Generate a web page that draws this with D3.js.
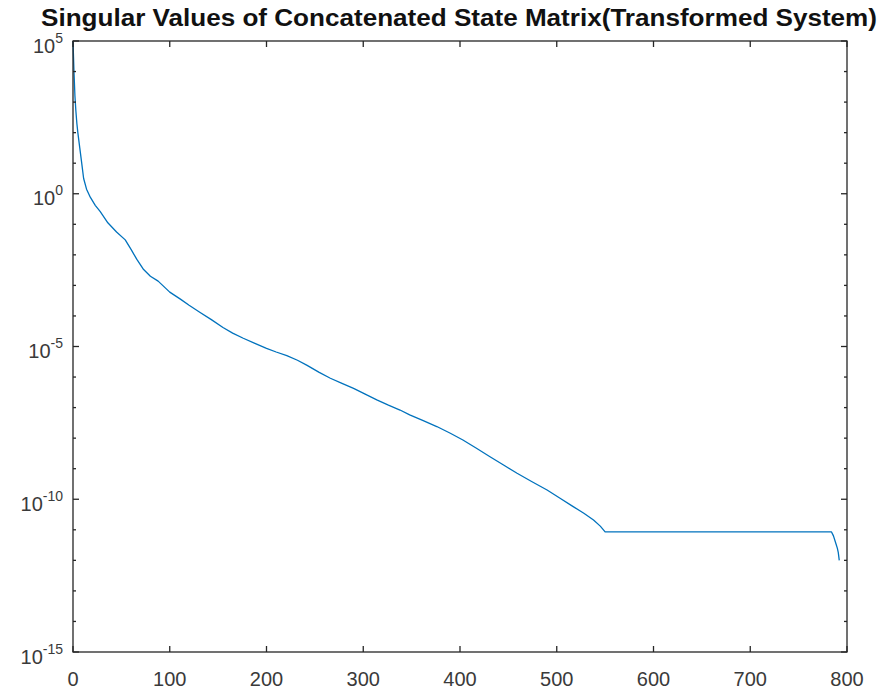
<!DOCTYPE html>
<html>
<head>
<meta charset="utf-8">
<script src="https://cdn.jsdelivr.net/npm/d3@7"></script>
<style>
  html, body { margin: 0; padding: 0; background: #ffffff; }
  svg { display: block; }
</style>
</head>
<body>
<svg id="chart" width="886" height="696"></svg>
<script>
// Singular value index (x) and the corresponding singular value (y, log scale)
const sampleIndex = [
  0, 1, 2, 3, 4, 5, 7, 9, 11, 14, 18, 23, 28, 36, 45, 54, 60, 66, 73, 80, 88,
  100, 111, 120, 131, 143, 155, 165, 176, 188, 200, 210, 221, 232, 242, 254,
  266, 278, 290, 302, 314, 326, 338, 348, 362, 376, 390, 403, 417, 431, 445,
  459, 474, 490, 503, 517, 528, 538, 545, 550, 600, 700, 784, 786, 788, 790, 791, 792
];
const singularValues = [
  1e5, 1e4, 1.58e3, 5.0e2, 2.0e2, 1.0e2, 31.6, 10, 3.16, 1.41, 0.759, 0.417, 0.263,
  0.112, 5.62e-2, 3.09e-2, 1.51e-2, 7.08e-3, 3.31e-3, 2.0e-3, 1.38e-3,
  6.03e-4, 3.55e-4, 2.24e-4, 1.32e-4, 7.59e-5, 4.17e-5, 2.75e-5, 1.86e-5, 1.26e-5,
  8.71e-6, 6.61e-6, 5.01e-6, 3.55e-6, 2.40e-6, 1.45e-6,
  9.12e-7, 6.17e-7, 4.27e-7, 2.75e-7, 1.78e-7, 1.20e-7, 8.32e-8, 5.75e-8, 3.72e-8,
  2.40e-8, 1.45e-8, 8.71e-9, 4.68e-9, 2.45e-9, 1.32e-9,
  7.08e-10, 3.80e-10, 2.0e-10, 1.10e-10, 5.75e-11, 3.47e-11, 2.09e-11, 1.32e-11,
  8.51e-12, 8.51e-12, 8.51e-12, 8.51e-12, 6.31e-12, 3.98e-12, 2.51e-12, 1.78e-12, 1.0e-12
];
const xTicks = [0, 100, 200, 300, 400, 500, 600, 700, 800];
const yTickExponents = [5, 0, -5, -10, -15];
const yMinorExponents = d3.range(-15, 6);
const titleText = "Singular Values of Concatenated State Matrix(Transformed System)";

const plotLeft = 73, plotRight = 847, plotTop = 41, plotBottom = 652;
const axisColor = "#262626";
const labelColor = "#3a3a3a";
const fontFamily = "'Liberation Sans', Arial, Helvetica, sans-serif";

const svg = d3.select("#chart");

const x = d3.scaleLinear().domain([0, 800]).range([plotLeft, plotRight]);
const y = d3.scaleLog().domain([1e-15, 1e5]).range([plotBottom, plotTop]);

// data line
const line = d3.line()
  .x((d, i) => x(sampleIndex[i]))
  .y(d => y(d));

svg.append("path")
  .datum(singularValues)
  .attr("d", line)
  .attr("fill", "none")
  .attr("stroke", "#0072BD")
  .attr("stroke-width", 1.3)
  .attr("stroke-linejoin", "round");

// box frame
const axes = svg.append("g").attr("stroke", axisColor).attr("stroke-width", 1.3).attr("fill", "none");
axes.append("rect")
  .attr("x", plotLeft).attr("y", plotTop)
  .attr("width", plotRight - plotLeft).attr("height", plotBottom - plotTop);

// x ticks (bottom and top, pointing inward)
xTicks.forEach(t => {
  axes.append("line").attr("x1", x(t)).attr("x2", x(t)).attr("y1", plotBottom).attr("y2", plotBottom - 6);
  axes.append("line").attr("x1", x(t)).attr("x2", x(t)).attr("y1", plotTop).attr("y2", plotTop + 6);
});

// y ticks: minor at each decade, major every five decades
yMinorExponents.forEach(e => {
  const len = yTickExponents.includes(e) ? 6 : 3;
  const yy = y(Math.pow(10, e));
  axes.append("line").attr("x1", plotLeft).attr("x2", plotLeft + len).attr("y1", yy).attr("y2", yy);
  axes.append("line").attr("x1", plotRight).attr("x2", plotRight - len).attr("y1", yy).attr("y2", yy);
});

// x tick labels
svg.append("g")
  .selectAll("text")
  .data(xTicks)
  .join("text")
  .attr("x", d => x(d))
  .attr("y", plotBottom + 34)
  .attr("text-anchor", "middle")
  .attr("font-family", fontFamily)
  .attr("font-size", 20)
  .attr("fill", labelColor)
  .text(d => d);

// y tick labels as 10 with raised exponent
const yl = svg.append("g")
  .selectAll("text")
  .data(yTickExponents)
  .join("text")
  .attr("x", plotLeft - 10)
  .attr("y", d => y(Math.pow(10, d)) + 11.5)
  .attr("text-anchor", "end")
  .attr("font-family", fontFamily)
  .attr("font-size", 20)
  .attr("fill", labelColor);
yl.append("tspan").text("10");
yl.append("tspan")
  .attr("font-size", 14)
  .attr("dy", -10)
  .text(d => String(d));

// title
svg.append("text")
  .attr("x", (plotLeft + plotRight) / 2 - 1)
  .attr("y", 26)
  .attr("text-anchor", "middle")
  .attr("font-family", fontFamily)
  .attr("font-weight", "bold")
  .attr("font-size", 23)
  .attr("textLength", 836)
  .attr("lengthAdjust", "spacingAndGlyphs")
  .attr("fill", "#111111")
  .text(titleText);
</script>
</body>
</html>
